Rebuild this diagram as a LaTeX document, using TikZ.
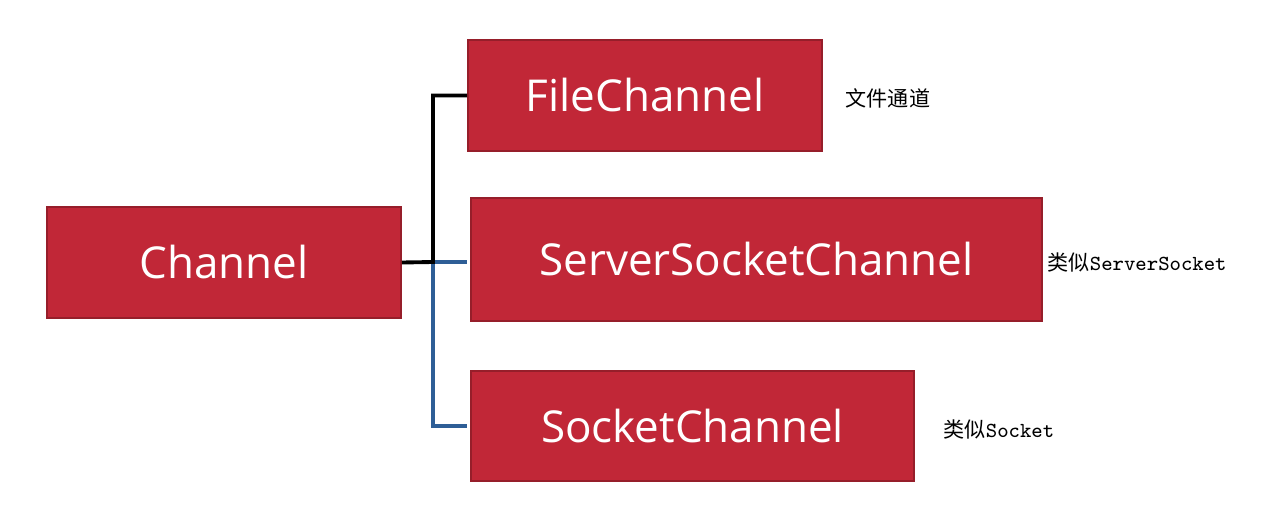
\documentclass[tikz,border=0pt]{standalone}
\usepackage{fontspec}
\newfontfamily\boxfont{Open Sans}
\newfontfamily\cjk{Noto Sans CJK SC}
\usepackage{tikz}
\usetikzlibrary{positioning,calc}
\definecolor{boxRed}{RGB}{193,39,55}
\definecolor{edgeRed}{RGB}{150,30,42}
\definecolor{linkBlue}{RGB}{46,94,150}
\newcommand{\latinpart}[1]{{\ttfamily\fontsize{6.1}{7}\selectfont #1}}

\begin{document}
\begin{tikzpicture}[x=0.01cm, y=-0.01cm,
        box/.style={draw=edgeRed, line width=0.4pt, fill=boxRed, text=white,
          inner sep=0pt, font=\boxfont\fontsize{12.5}{15}\selectfont},
        note/.style={anchor=west, inner sep=0pt, text=black,
          font=\cjk\fontsize{6}{7}\selectfont},
        link/.style={line width=1.1pt, black},
        sublink/.style={line width=0.9pt, linkBlue, shorten >=1pt}
      ]
        \useasboundingbox (0,0) rectangle (1261,521);
        % Boxes
        \node[box, minimum width=3.54cm, minimum height=1.11cm]
          (chan) at (224,262.5) {Channel};
        \node[box, minimum width=3.54cm, minimum height=1.11cm]
          (file) at (645,95.5) {FileChannel};
        \node[box, minimum width=5.71cm, minimum height=1.23cm]
          (srv) at (756.5,259.5) {ServerSocketChannel};
        \node[box, minimum width=4.43cm, minimum height=1.10cm]
          (sock) at (692.5,426) {SocketChannel};
        % Notes beside the boxes
        \node[note] (fnote) at (845,98) {文件通道};
        \node[note] (snote) at (1047,262) {类似\latinpart{ServerSocket}};
        \node[note] (knote) at (943,429) {类似\latinpart{Socket}};
        % Connectors
        \coordinate (split) at (433,262);
        \draw[sublink] (split) -- (split -| srv.west);
        \draw[sublink] (split) |- (sock.west);
        \draw[link] (chan.east) -- (split) |- (file.west);
      \end{tikzpicture}
\end{document}
